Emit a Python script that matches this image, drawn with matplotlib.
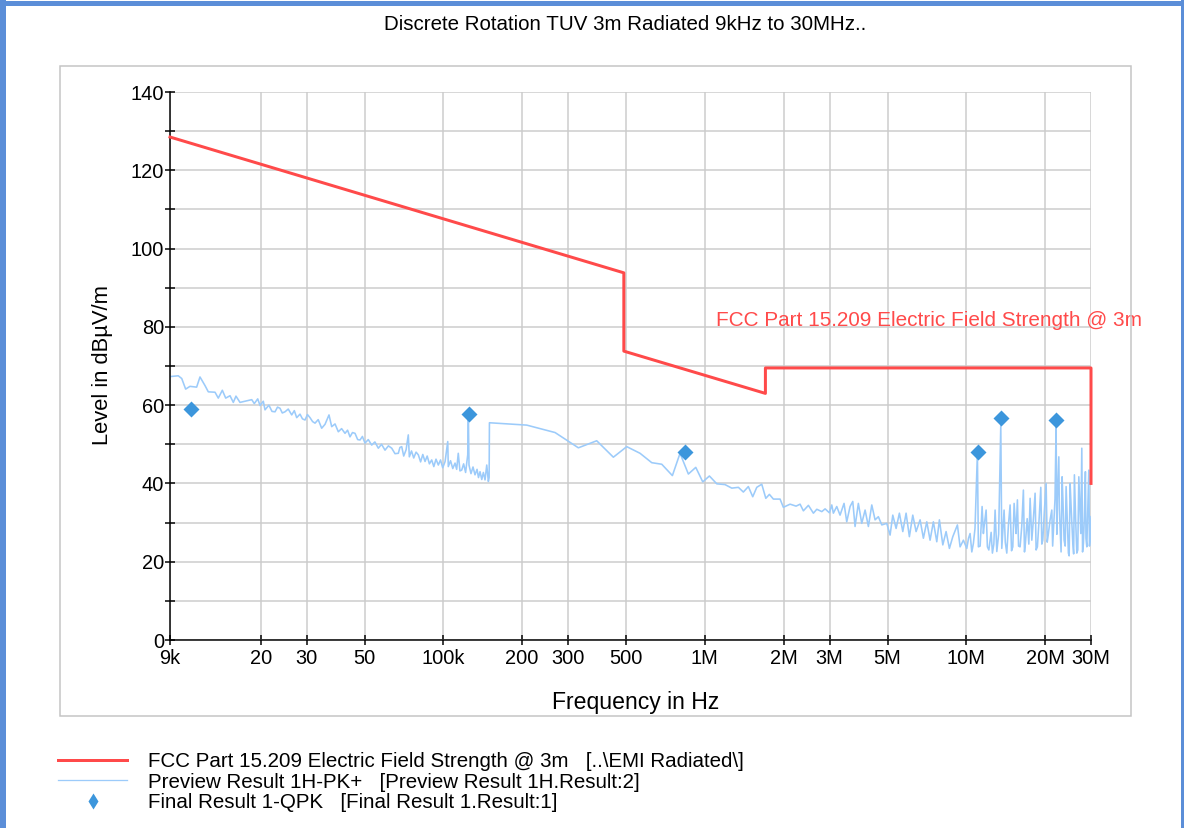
import numpy as np
import matplotlib
matplotlib.use("Agg")
import matplotlib.pyplot as plt
from matplotlib.lines import Line2D
from matplotlib.patches import Rectangle
from matplotlib.ticker import NullLocator

plt.rcParams['font.family'] = ['Liberation Sans', 'DejaVu Sans']

W, H, DPI = 1184, 828, 72

# FCC Part 15.209 limit (Hz, dBuV/m)
limit_freq = [9e3, 490e3, 490e3, 1.705e6, 1.705e6, 30e6, 30e6]
limit_level = [128.5, 93.8, 73.8, 63.0, 69.5, 69.5, 40.0]

# final QPK results
final_freq = [10.8e3, 125e3, 840e3, 11.1e6, 13.6e6, 22.1e6]
final_level = [59.0, 57.7, 48.0, 48.0, 56.7, 56.2]

# preview PK+ trace, 9 kHz - 150 kHz band
preview_lf_khz = [9.0, 9.68, 9.98, 10.33, 10.73, 11.38, 11.72, 12.25, 12.61, 13.38,
                  13.77, 14.27, 14.70, 15.27, 15.72, 16.09, 16.67, 17.69, 18.49, 18.91,
                  19.49, 19.89, 20.47, 20.78, 21.5, 22.1, 22.7, 23.2, 23.71, 24.2,
                  24.78, 25.5, 26.29, 26.9, 27.47, 28.28, 28.9, 29.56, 30.2, 30.89,
                  31.6, 32.28, 33.2, 34.23, 35.25, 36.51, 37.39, 38.5, 39.63, 40.8,
                  42.04, 43.0, 43.93, 44.9, 45.91, 47.0, 47.99, 49.0, 50.13, 51.6,
                  53.18, 54.7, 56.37, 58.0, 59.8, 61.6, 63.43, 65.3, 67.24, 68.2,
                  69.28, 70.5, 72.0, 73.41, 74.08, 75.5, 77.0, 78.6, 80.2, 81.8,
                  83.4, 85.06, 86.7, 88.4, 90.22, 91.9, 93.7, 95.63, 97.5, 99.4,
                  101.5, 103.9, 104.4, 106.5, 108.6, 110.8, 112.4, 114.0, 115.7, 117.5,
                  119.5, 121.6, 123.9, 124.6, 125.3, 127.5, 129.8, 132.1, 134.5, 136.2,
                  138.1, 140.2, 142.2, 144.3, 146.5, 148.6, 149.6]
preview_lf_db = [67.3, 67.5, 66.8, 64.1, 64.8, 64.6, 67.2, 65.0, 63.4, 63.3,
                 61.8, 63.8, 61.8, 62.4, 60.7, 62.3, 60.7, 61.1, 61.4, 60.4,
                 61.6, 59.9, 61.0, 58.8, 60.0, 58.4, 58.3, 59.5, 59.2, 58.0,
                 58.3, 59.0, 57.5, 58.6, 56.8, 57.7, 56.5, 56.2, 57.6, 56.8,
                 55.8, 55.4, 56.3, 54.1, 55.1, 57.5, 54.5, 55.2, 53.2, 54.0,
                 52.8, 53.6, 51.9, 53.0, 52.8, 51.2, 51.1, 52.0, 50.3, 51.2,
                 49.8, 50.6, 49.0, 50.0, 48.5, 49.6, 49.0, 47.6, 47.7, 49.2,
                 49.4, 47.0, 48.6, 52.4, 46.8, 48.3, 46.5, 48.0, 47.3, 45.5,
                 47.4, 45.6, 47.0, 45.0, 46.0, 44.3, 46.2, 44.7, 46.0, 44.0,
                 45.6, 50.7, 44.3, 45.8, 43.8, 45.2, 43.6, 47.7, 43.2, 43.4,
                 45.0, 42.8, 47.3, 57.5, 44.7, 42.5, 44.2, 42.2, 43.6, 41.5,
                 43.0, 41.0, 42.8, 40.9, 44.7, 40.5, 41.5]

# preview PK+ trace, 150 kHz - 30 MHz band
preview_hf_khz = [150.0, 208.3, 267.4, 328.3, 385.9, 446.8, 502.7, 565.1, 626.6, 684.3,
                  751.4, 803.8, 865.0, 923.3, 981.9, 1041, 1111, 1195, 1268, 1344,
                  1404, 1467, 1525, 1580, 1651, 1711, 1766, 1829, 1940, 1997,
                  2119, 2234, 2314, 2382, 2490, 2602, 2681, 2802, 2884, 2995,
                  3059, 3102, 3196, 3290, 3408, 3490, 3594, 3680, 3755, 3866,
                  3983, 4102, 4223, 4351, 4479, 4611, 4751, 4965, 5112, 5235,
                  5390, 5549, 5718, 5886, 6059, 6243, 6428, 6659, 6855, 7063,
                  7271, 7485, 7713, 7893, 8133, 8372, 8620, 8882, 9250, 9471,
                  9750, 10046, 10342, 10649, 11030, 11127, 11497, 11628, 11910, 12045,
                  12337, 12589, 12891, 13086, 13554, 13673, 13953, 14289, 14713, 15066,
                  15241, 15510, 15690, 16066, 16539, 16835, 17547, 17812, 18336, 18711,
                  19280, 19620, 20203, 20617, 21243, 21677, 22060, 22316, 22594, 22851,
                  23260, 23671, 24094, 24588, 24959, 25558, 25919, 26474, 26948, 27424,
                  27665, 28063, 28558, 28915, 29426, 29766, 30000]
preview_hf_db = [55.5, 54.9, 53.0, 49.1, 50.9, 46.7, 49.4, 47.7, 45.3, 44.9,
                 42.0, 47.7, 42.4, 44.1, 40.4, 41.9, 39.9, 39.7, 38.8, 39.0,
                 37.8, 39.2, 36.6, 39.0, 39.8, 36.2, 37.2, 36.0, 36.0, 33.9,
                 34.7, 34.2, 34.7, 33.0, 34.4, 32.4, 33.4, 32.8, 33.5, 32.5,
                 34.5, 32.4, 34.1, 31.9, 34.9, 30.2, 34.1, 35.4, 29.0, 34.9,
                 29.8, 33.2, 29.0, 34.5, 30.7, 31.5, 29.4, 29.8, 26.8, 31.9,
                 28.5, 32.4, 27.7, 32.4, 26.4, 31.9, 27.7, 30.7, 26.0, 30.2,
                 25.5, 30.2, 25.1, 30.7, 24.3, 27.7, 23.4, 26.4, 29.4, 23.8,
                 25.5, 23.4, 27.2, 24.7, 47.7, 23.8, 34.1, 27.2, 33.2, 23.8,
                 25.5, 22.2, 33.2, 22.6, 54.9, 23.4, 33.2, 22.2, 34.5, 23.8,
                 34.9, 27.2, 35.8, 23.8, 38.3, 24.7, 36.2, 25.5, 37.5, 23.8,
                 39.0, 25.5, 40.0, 27.2, 33.2, 31.5, 54.5, 35.8, 46.8, 29.0,
                 41.7, 25.5, 39.2, 22.2, 40.0, 24.7, 42.2, 22.2, 41.7, 27.2,
                 49.0, 24.7, 43.0, 23.8, 43.4, 25.5, 31.5]

# extra readings of the dense noise band above 10 MHz (merged by frequency)
preview_fill_khz = [10200, 10500, 10800, 11300, 11700, 12200, 12450, 12750, 13300, 13800,
                    14100, 14500, 14900, 15400, 15850, 16300, 16700, 17100, 17350, 18000,
                    18500, 19000, 19450, 19900, 20400, 20900, 21400, 21850, 22200, 22700,
                    23050, 23450, 23900, 24300, 24750, 25200, 25750, 26200, 26700, 27200,
                    27850, 28300, 28700, 29150, 29600, 29900]
preview_fill_db = [26.0, 22.5, 28.5, 24.0, 29.0, 23.0, 27.5, 24.5, 27.0, 28.0,
                   25.0, 29.5, 22.8, 30.0, 24.0, 29.0, 22.5, 31.0, 24.5, 29.5,
                   23.0, 31.0, 24.5, 33.0, 25.0, 30.5, 24.0, 36.0, 27.0, 33.5,
                   22.5, 35.0, 24.0, 32.0, 21.5, 33.5, 22.0, 31.0, 23.0, 34.0,
                   22.5, 31.5, 26.0, 33.0, 24.0, 30.0]

xtick_pos = [9e3, 20e3, 30e3, 50e3, 100e3, 200e3, 300e3, 500e3,
             1e6, 2e6, 3e6, 5e6, 10e6, 20e6, 30e6]
xtick_labels = ['9k', '20', '30', '50', '100k', '200', '300', '500',
                '1M', '2M', '3M', '5M', '10M', '20M', '30M']

title = 'Discrete Rotation TUV 3m Radiated 9kHz to 30MHz..'
limit_name = 'FCC Part 15.209 Electric Field Strength @ 3m'
legend_labels = [limit_name + '   [..\\EMI Radiated\\]',
                 'Preview Result 1H-PK+   [Preview Result 1H.Result:2]',
                 'Final Result 1-QPK   [Final Result 1.Result:1]']

red = '#ff4a4a'
light_blue = '#9ccbfa'
blue = '#3c96dc'
grid_grey = '#cccccc'


def fx(px):
    return px / W


def fy(py):
    return 1 - py / H


fig = plt.figure(figsize=(W / DPI, H / DPI), dpi=DPI)

# outer blue frame and inner grey panel
fig.add_artist(Line2D([fx(3), fx(3)], [0, 1], color='#5b8ed8', lw=6))
fig.add_artist(Line2D([0, 1], [fy(2.5), fy(2.5)], color='#5b8ed8', lw=5))
fig.add_artist(Line2D([fx(1182), fx(1182)], [0, 1], color='#5b8ed8', lw=3))
fig.add_artist(Rectangle((fx(60), fy(716)), fx(1131) - fx(60), fy(66) - fy(716),
                         transform=fig.transFigure, fill=False, ec='#c4c4c4', lw=1.5))

ax = fig.add_axes([fx(170), fy(640), fx(1091) - fx(170), fy(92) - fy(640)])

# merge trace pieces in frequency order (stable so the 150 kHz step stays vertical)
pv_f = np.array(preview_lf_khz + preview_hf_khz + preview_fill_khz) * 1e3
pv_l = np.array(preview_lf_db + preview_hf_db + preview_fill_db)
order = np.argsort(pv_f, kind='stable')
ax.plot(pv_f[order], pv_l[order], color=light_blue, lw=1.6, zorder=2)
ax.plot(limit_freq, limit_level, color=red, lw=3, zorder=3, clip_on=False)
ax.plot(final_freq, final_level, ls='none', marker='D', ms=12, color=blue,
        mec='none', zorder=4, clip_on=False)

ax.text(1.1e6, 81.5, limit_name, color=red, fontsize=20.8, ha='left', va='center')

ax.set_xscale('log')
ax.set_xlim(9e3, 30e6)
ax.set_ylim(0, 140)
ax.set_xticks(xtick_pos)
ax.set_xticklabels(xtick_labels)
ax.xaxis.set_minor_locator(NullLocator())
yt = list(range(0, 141, 10))
ax.set_yticks(yt)
ax.set_yticklabels([str(v) if v % 20 == 0 else '' for v in yt])
ax.tick_params(direction='inout', length=10, width=1.5, labelsize=20, color='black')
ax.tick_params(axis='y', pad=1)
ax.tick_params(axis='x', pad=4)

for side in ['top', 'right']:
    ax.spines[side].set_visible(False)
for side in ['left', 'bottom']:
    ax.spines[side].set_linewidth(1.5)
    ax.spines[side].set_color('black')

ax.grid(True, color=grid_grey, lw=1.5)
ax.set_axisbelow(True)

ax.set_xlabel('Frequency in Hz', fontsize=23)
ax.xaxis.set_label_coords((636 - 170) / 921, (640 - 702) / 548)
ax.xaxis.label.set_va('center')
ax.set_ylabel('Level in dB\u00b5V/m', fontsize=22)
ax.yaxis.set_label_coords((103 - 170) / 921, (640 - 365) / 548)
ax.yaxis.label.set_va('center')

fig.text(fx(625), fy(25), title, ha='center', va='center', fontsize=20.5)

handles = [Line2D([], [], color=red, lw=3),
           Line2D([], [], color=light_blue, lw=1.3),
           Line2D([], [], ls='none', marker='d', ms=12, color=blue, mec='none')]
fig.legend(handles, legend_labels, loc='upper left', bbox_to_anchor=(fx(58), fy(752)),
           frameon=False, fontsize=20.5, handlelength=3.37, handletextpad=1.02,
           labelspacing=0.08, borderpad=0, borderaxespad=0)

fig.savefig('out.png', dpi=DPI)
